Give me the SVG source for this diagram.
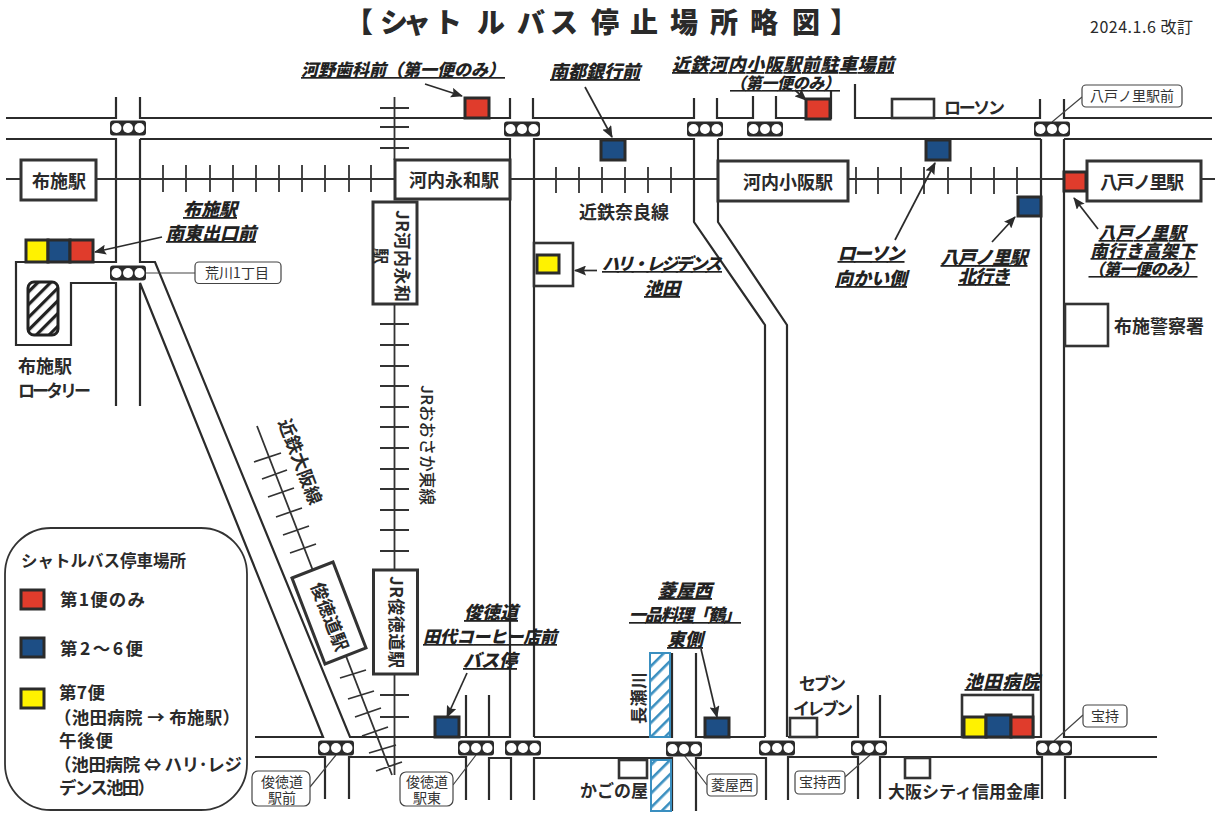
<svg xmlns="http://www.w3.org/2000/svg" width="1215" height="817" viewBox="0 0 1215 817">
<style>
text{font-family:"Noto Sans CJK JP","Liberation Sans",sans-serif;fill:#2a2a2a}
.road{fill:none;stroke:#2b2b2b;stroke-width:2.2}
.rail{fill:none;stroke:#333;stroke-width:1.8}
.box{fill:#fff;stroke:#333;stroke-width:3}
.thin{fill:#fff;stroke:#333;stroke-width:2.6}
.r{fill:#e03c2c;stroke:#2b2b2b;stroke-width:3}
.b{fill:#1d4e85;stroke:#2b2b2b;stroke-width:3}
.y{fill:#fff200;stroke:#2b2b2b;stroke-width:3}
.tag{fill:#fff;stroke:#444;stroke-width:1.2}
.lead{fill:none;stroke:#444;stroke-width:1.2}
.arr{fill:none;stroke:#2b2b2b;stroke-width:1.7;marker-end:url(#ah)}
.sig{fill:#2b2b2b}
.sc{fill:#fff}
.st{font-size:18px;font-weight:700;text-anchor:middle}
.lb{font-size:18px;font-weight:900;font-style:italic;text-decoration:underline;text-anchor:middle;fill:#222}
.pl{font-size:17px;font-weight:700;fill:#2a2a2a}
.tg{font-size:14px;text-anchor:middle;fill:#333;font-weight:400}
.lg{font-size:17.5px;font-weight:700;fill:#2a2a2a}
.hk{fill:url(#hk);stroke:#222;stroke-width:3}
.hb{fill:url(#hb);stroke:#3a8fc0;stroke-width:2}
</style>
<defs>
<marker id="ah" markerWidth="12" markerHeight="10" refX="11" refY="5" orient="auto" markerUnits="userSpaceOnUse"><path d="M0,0L12,5L0,10L2,5Z" fill="#2b2b2b"/></marker>
<pattern id="hk" width="9" height="9" patternUnits="userSpaceOnUse" patternTransform="rotate(-45)"><rect width="9" height="9" fill="#fff"/><rect width="9" height="3.2" fill="#222"/></pattern>
<pattern id="hb" width="10" height="10" patternUnits="userSpaceOnUse" patternTransform="rotate(-45)"><rect width="10" height="10" fill="#fff"/><rect width="10" height="2.6" fill="#3a8fc0"/></pattern>
<g id="sg"><rect x="-18" y="-7.500" width="36" height="15" rx="3" class="sig"/><circle cx="-11.5" cy="0" r="5" class="sc"/><circle cx="0" cy="0" r="5" class="sc"/><circle cx="11.5" cy="0" r="5" class="sc"/></g>
</defs>
<rect width="1215" height="817" fill="#fff"/>

<g id="title">
<text x="345 380 403 434 477 517 550 591 630 670 710 750 792 830" y="33" font-size="28" font-weight="900">【シャトルバス停止場所略図】</text>
<text x="1090" y="33" font-size="16" textLength="103" style="font-weight:400">2024.1.6 改訂</text>
</g>

<g id="connectors">
<path class="road" d="M6,118H116V97M140,97V118H510V98M533,98V118H694V98M717,98V118H753V96M776,96V118H831V90M855,84V118H1040V99M1064,99V118H1212"/>
<path class="road" d="M6,139H116V262H16V345H71V283H116V406M140,406V283L323,737H255M140,139H510V737H466V695M489,695V737H511M534,737V139H694V222L765,325V737M718,139V222L787,325V737M1041,139V737H880V695M858,695V737H788M718,139H1041M1064,139H1212M1064,139V737H1157M140,139V262H155L350,737H466"/>
<path class="road" d="M534,737H672V653M696,653V737H765"/>
<path class="road" d="M255,757H325V799M349,799V757H466V800M489,800V758H511V800M534,800V758H672V811M696,811V758H766V800M788,800V757H858V799M880,799V757H1042V799M1065,799V757H1157"/>
<path class="rail" d="M6,179H21M96,179H395M510,179H718M848,179H1087M1201,179H1222"/>
<path class="rail" d="M163,165V192M186,165V192M210,165V192M233,165V192M256,165V192M279,165V192M302,165V192M325,165V192M349,165V192M371,165V192M556,167V193M579,167V193M602,167V193M625,167V193M648,167V193M671,167V193M856,167V194M878,167V194M901,167V194M924,167V194M948,167V194M971,167V194M994,167V194M1017,167V194"/>
<path class="rail" d="M394.500,97V160M394.500,304V570M394.500,673V775M380,108H409M380,127H409M380,148H409M380,324H409M380,345H409M380,366H409M380,386H409M380,407H409M380,427H409M380,448H409M380,469H409M380,489H409M380,510H409M380,530H409M380,551H409M380,695H409M380,717H409"/>
<path class="rail" d="M257,426L392,775M254,462L281,453M262,479L287,470M268,497L294,488M276,517L302,508M283,535L309,526M290,553L316,544M340,678L366,670M348,699L374,691M355,717L381,708M362,736L388,727M369,753L396,745M376,771L402,762"/>
<path class="lead" d="M145,273H195M1052,122L1082,97M310,787L336,755M453,785L476,755M684,755L707,785M845,777L870,755M1054,741L1083,715"/>
<path class="arr" d="M425,84L462,96"/>
<path class="arr" d="M585,87L612,137"/>
<path class="arr" d="M795,90L806,100"/>
<path class="arr" d="M895,240L935,163"/>
<path class="arr" d="M992,242L1015,217"/>
<path class="arr" d="M1098,229L1074,198"/>
<path class="arr" d="M162,237L95,252"/>
<path class="arr" d="M597,270.500H575"/>
<path class="arr" d="M467,673L447,717"/>
<path class="arr" d="M701,649L717,717"/>
</g>

<g id="n-fuse"><rect class="box" x="21" y="160" width="75" height="40"/><text class="st" x="59" y="188">布施駅</text></g>
<g id="n-nagawa"><rect class="box" x="395" y="160" width="115" height="39"/><text class="st" x="454" y="187">河内永和駅</text></g>
<g id="n-kosaka"><rect class="box" x="718" y="161" width="130" height="40"/><text class="st" x="788" y="189">河内小阪駅</text></g>
<g id="n-yaenosato"><rect class="box" x="1087" y="161" width="114" height="40"/><text class="st" x="1142" y="189" textLength="84" lengthAdjust="spacing">八戸ノ里駅</text></g>
<g id="n-jr-nagawa"><rect class="box" x="373" y="202" width="44" height="102"/><text transform="translate(396,210) rotate(90)" font-size="17" font-weight="700" textLength="92" lengthAdjust="spacing">JR河内永和</text><text transform="translate(375,248) rotate(90)" font-size="16" font-weight="700">駅</text></g>
<g id="n-jr-shuntoku"><rect class="box" x="373.500" y="570" width="44" height="104"/><text transform="translate(390,576) rotate(90)" font-size="17" font-weight="700" textLength="92" lengthAdjust="spacing">JR俊徳道駅</text></g>
<g id="n-shuntoku"><path class="box" d="M292,578L333,562L366,648L325,664Z"/><text class="st" transform="translate(323.500,619) rotate(69)">俊徳道駅</text></g>

<g id="sig-all">
<use href="#sg" x="128" y="128"/><use href="#sg" x="128" y="273"/><use href="#sg" x="522" y="129"/><use href="#sg" x="705" y="129"/><use href="#sg" x="765" y="129"/><use href="#sg" x="1052" y="129"/><use href="#sg" x="336" y="748"/><use href="#sg" x="476" y="748"/><use href="#sg" x="523" y="748"/><use href="#sg" x="684" y="749"/><use href="#sg" x="777" y="748"/><use href="#sg" x="869" y="748"/><use href="#sg" x="1054" y="748"/>
</g>

<g id="n-rotary"><rect class="hk" x="28" y="282" width="30" height="53" rx="6"/><text class="pl" x="18" y="373" style="font-size:18px">布施駅</text><text class="pl" x="18" y="397" textLength="73" lengthAdjust="spacing">ロータリー</text></g>
<g id="s-fuse"><rect class="y" x="26" y="240" width="22" height="22"/><rect class="b" x="48" y="240" width="22" height="22"/><rect class="r" x="70" y="240" width="23" height="22"/><text class="lb" x="210" y="216">布施駅</text><text class="lb" x="211" y="240">南東出口前</text></g>
<g id="s-kono"><rect class="r" x="465" y="98" width="24" height="20"/><text class="lb" x="403" y="76" textLength="204" lengthAdjust="spacing" style="font-size:17px">河野歯科前（第一便のみ）</text></g>
<g id="s-nanto"><rect class="b" x="601" y="140" width="24" height="20"/><text class="lb" x="595" y="78">南都銀行前</text></g>
<g id="s-kosaka"><rect class="r" x="806" y="99" width="24" height="20"/><text class="lb" x="783" y="71" textLength="222" lengthAdjust="spacing">近鉄河内小阪駅前駐車場前</text><text class="lb" x="785" y="89" textLength="110" lengthAdjust="spacing" style="font-size:16px">（第一便のみ）</text></g>
<g id="s-lawson"><rect class="b" x="926" y="140" width="24" height="20"/><text class="lb" x="871" y="260" textLength="67" lengthAdjust="spacing">ローソン</text><text class="lb" x="871" y="285" textLength="72" lengthAdjust="spacing">向かい側</text></g>
<g id="s-yae-n"><rect class="b" x="1018" y="197" width="23" height="19"/><text class="lb" x="984" y="264" textLength="87" lengthAdjust="spacing">八戸ノ里駅</text><text class="lb" x="984" y="283" textLength="52" lengthAdjust="spacing">北行き</text></g>
<g id="s-yae-s"><rect class="r" x="1064" y="172" width="22" height="19"/><text class="lb" x="1142" y="239" textLength="87" lengthAdjust="spacing" style="font-size:17px">八戸ノ里駅</text><text class="lb" x="1143" y="257" textLength="105" lengthAdjust="spacing" style="font-size:17px">南行き高架下</text><text class="lb" x="1143" y="275" textLength="109" lengthAdjust="spacing" style="font-size:16px">（第一便のみ）</text></g>
<g id="s-hari"><rect class="thin" x="534" y="243" width="39" height="43"/><rect class="y" x="537" y="255" width="22" height="18"/><text class="lb" x="662" y="270" textLength="120" lengthAdjust="spacing" style="font-size:17px">ハリ・レジデンス</text><text class="lb" x="662" y="295">池田</text></g>
<g id="s-tashiro"><rect class="b" x="435" y="717" width="24" height="20"/><text class="lb" x="491" y="619">俊徳道</text><text class="lb" x="490" y="643" textLength="134" lengthAdjust="spacing" style="font-size:17px">田代コーヒー店前</text><text class="lb" x="490" y="667">バス停</text></g>
<g id="s-hishiya"><rect class="b" x="705" y="718" width="24" height="19"/><text class="lb" x="685" y="597">菱屋西</text><text class="lb" x="685" y="621" textLength="112" lengthAdjust="spacing" style="font-size:17px">一品料理「鶴」</text><text class="lb" x="685" y="646">東側</text></g>
<g id="s-hosp"><rect class="thin" x="962" y="695" width="71" height="42"/><rect class="y" x="964" y="717" width="22" height="20"/><rect class="b" x="986" y="715" width="25" height="22"/><rect class="r" x="1011" y="717" width="22" height="20"/><text class="lb" x="1002" y="688" textLength="75" lengthAdjust="spacing">池田病院</text></g>

<g id="n-lawson"><rect class="thin" x="892" y="99" width="42" height="19"/><text class="pl" x="944" y="114" textLength="61" lengthAdjust="spacing">ローソン</text></g>
<g id="n-police"><rect class="thin" x="1065" y="304" width="43" height="42"/><text class="pl" x="1114" y="333" style="font-size:18px">布施警察署</text></g>
<g id="n-711"><rect class="thin" x="790" y="718" width="27" height="19"/><text class="pl" x="799" y="690" textLength="47" lengthAdjust="spacing">セブン</text><text class="pl" x="793" y="715" textLength="60" lengthAdjust="spacing">イレブン</text></g>
<g id="n-kago"><rect class="thin" x="619" y="760" width="28" height="18"/><text class="pl" x="580" y="797">かごの屋</text></g>
<g id="n-bank"><rect class="thin" x="905" y="758" width="25" height="20"/><text class="pl" x="888" y="798">大阪シティ信用金庫</text></g>
<g id="n-nagase"><rect class="hb" x="650" y="653" width="20" height="84"/><rect class="hb" x="651" y="760" width="20" height="51"/><text class="pl" transform="translate(645,724) rotate(-90)" textLength="52" lengthAdjust="spacing">長瀬川</text></g>

<text x="579" y="219" font-size="18" font-weight="700">近鉄奈良線</text>
<text transform="translate(421,385) rotate(90)" font-size="16.500" font-weight="500" textLength="120" lengthAdjust="spacing">JRおおさか東線</text>
<text transform="translate(278,422) rotate(69)" font-size="18" font-weight="700">近鉄大阪線</text>

<g id="tags">
<g><rect class="tag" x="195" y="262" width="86" height="21.500" rx="4"/><text class="tg" x="237" y="278">荒川1丁目</text></g>
<g><rect class="tag" x="1082" y="85" width="100" height="22" rx="4"/><text class="tg" x="1132" y="101">八戸ノ里駅前</text></g>
<g><rect class="tag" x="252" y="771" width="58" height="35" rx="6"/><text class="tg" x="282" y="787">俊徳道</text><text class="tg" x="282" y="803">駅前</text></g>
<g><rect class="tag" x="400" y="772" width="53" height="34" rx="6"/><text class="tg" x="427" y="787">俊徳道</text><text class="tg" x="427" y="803">駅東</text></g>
<g><rect class="tag" x="707" y="774" width="50" height="22" rx="4"/><text class="tg" x="732" y="790">菱屋西</text></g>
<g><rect class="tag" x="795" y="771" width="50" height="23" rx="4"/><text class="tg" x="820" y="787">宝持西</text></g>
<g><rect class="tag" x="1083" y="705" width="44" height="22" rx="4"/><text class="tg" x="1105" y="721">宝持</text></g>
</g>

<g id="legend">
<rect x="5" y="528" width="242" height="282" rx="46" fill="#fff" stroke="#333" stroke-width="1.8"/>
<rect class="r" x="21" y="590" width="23" height="19"/><rect class="b" x="21" y="638" width="23" height="19"/><rect class="y" x="21" y="689" width="23" height="19"/>
<text class="lg" x="21" y="567" textLength="165" lengthAdjust="spacing" style="font-size:16.5px">シャトルバス停車場所</text>
<text class="lg" x="60" y="606" textLength="85" lengthAdjust="spacing">第1便のみ</text>
<text class="lg" x="60" y="655" textLength="83" lengthAdjust="spacing">第2～6便</text>
<text class="lg" x="59" y="699" textLength="46" lengthAdjust="spacing">第7便</text>
<text class="lg" x="54" y="724" textLength="186" lengthAdjust="spacing">（池田病院 → 布施駅）</text>
<text class="lg" x="59" y="747" textLength="54" lengthAdjust="spacing">午後便</text>
<text class="lg" x="54" y="771" textLength="188" lengthAdjust="spacing">（池田病院 ⇔ ハリ･レジ</text>
<text class="lg" x="59" y="794" textLength="96" lengthAdjust="spacing">デンス池田）</text>
</g>
</svg>
